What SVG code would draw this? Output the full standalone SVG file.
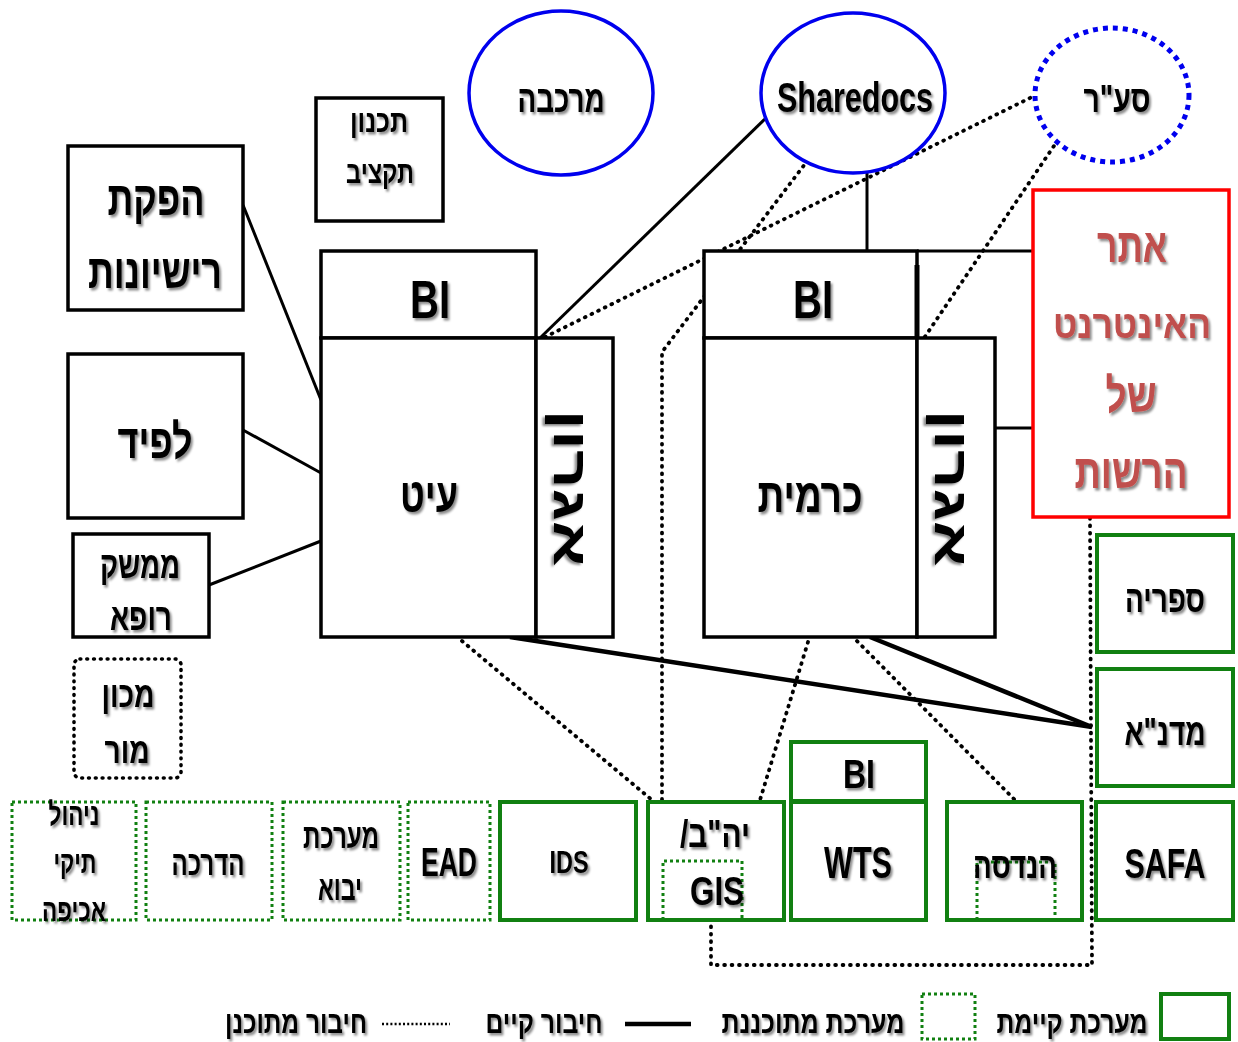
<svg xmlns="http://www.w3.org/2000/svg" width="1238" height="1042" viewBox="0 0 1238 1042">
<defs>
<filter id="sh" x="-5%" y="-10%" width="115%" height="130%">
<feDropShadow dx="2" dy="2.5" stdDeviation="1.3" flood-color="#000" flood-opacity="0.45"/>
</filter>
</defs>
<style>
.t{font-family:"Liberation Sans","Noto Sans",Arial,sans-serif;font-weight:bold;fill:#000;text-anchor:middle;filter:url(#sh)}
.he{direction:rtl;unicode-bidi:embed}
.red{fill:#C0504D}
.bx{fill:#fff;stroke:#000;stroke-width:3.5}
.gn{fill:#fff;stroke:#118011;stroke-width:4}
.gd{fill:none;stroke:#118011;stroke-width:3;stroke-dasharray:3 3}
.ell{fill:#fff;stroke:#0000EE;stroke-width:3.5}
.elld{fill:#fff;stroke:#0000EE;stroke-width:5;stroke-dasharray:5 5}
.sol{fill:none;stroke:#000;stroke-width:3}
.thk{fill:none;stroke:#000;stroke-width:4.5}
.dot{fill:none;stroke:#000;stroke-width:3.8;stroke-linecap:round;stroke-dasharray:0.8 6.6}
</style>

<g id="connectors">
<line class="sol" x1="243" y1="205" x2="321" y2="400"/>
<line class="sol" x1="243" y1="430" x2="321" y2="473"/>
<line class="sol" x1="209" y1="585" x2="321" y2="541"/>
<line class="sol" x1="540" y1="338" x2="767" y2="117"/>
<line class="sol" x1="867" y1="173" x2="867" y2="338"/>
<line class="sol" x1="917" y1="251" x2="1033" y2="251"/>
<line class="sol" x1="995" y1="428" x2="1033" y2="428"/>
<line class="thk" x1="510" y1="637" x2="1092" y2="727"/>
<line class="thk" x1="870" y1="637" x2="1092" y2="727"/>
<polyline class="dot" points="545,337 1032,97"/>
<polyline class="dot" points="808,160 662,352 662,800"/>
<polyline class="dot" points="1058,140 828,480"/>
<polyline class="dot" points="462,641 652,800"/>
<polyline class="dot" points="808,642 760,800"/>
<polyline class="dot" points="857,641 1015,800"/>
<polyline class="dot" points="1090,518 1092,965 711,965 711,921"/>
</g>

<g id="node-hafakat">
<rect class="bx" x="68" y="146" width="175" height="164"/>
<text class="t he" x="156" y="215" font-size="48" textLength="97" lengthAdjust="spacingAndGlyphs">הפקת</text>
<text class="t he" x="155" y="288" font-size="48" textLength="134" lengthAdjust="spacingAndGlyphs">רישיונות</text>
</g>
<g id="node-lapid">
<rect class="bx" x="68" y="354" width="175" height="164"/>
<text class="t he" x="155" y="458" font-size="48" textLength="75" lengthAdjust="spacingAndGlyphs">לפיד</text>
</g>
<g id="node-memshak">
<rect class="bx" x="73" y="534" width="136" height="103"/>
<text class="t he" x="140" y="578" font-size="38" textLength="80" lengthAdjust="spacingAndGlyphs">ממשק</text>
<text class="t he" x="141" y="630" font-size="38" textLength="62" lengthAdjust="spacingAndGlyphs">רופא</text>
</g>
<g id="node-machon">
<rect x="74" y="659" width="107" height="119" rx="6" fill="#fff" stroke="#000" stroke-width="3.6" stroke-linecap="round" stroke-dasharray="0.8 6"/>
<text class="t he" x="128" y="707" font-size="36" textLength="53" lengthAdjust="spacingAndGlyphs">מכון</text>
<text class="t he" x="127" y="763" font-size="36" textLength="45" lengthAdjust="spacingAndGlyphs">מור</text>
</g>
<g id="node-taktziv">
<rect class="bx" x="316" y="98" width="127" height="123"/>
<text class="t he" x="379" y="132" font-size="32" textLength="58" lengthAdjust="spacingAndGlyphs">תכנון</text>
<text class="t he" x="380" y="183" font-size="32" textLength="68" lengthAdjust="spacingAndGlyphs">תקציב</text>
</g>

<g id="node-bi-left">
<rect class="bx" x="321" y="251" width="215" height="87"/>
<text class="t" x="430" y="318" font-size="54" textLength="40" lengthAdjust="spacingAndGlyphs">BI</text>
</g>
<g id="node-ait">
<rect class="bx" x="321" y="338" width="215" height="299"/>
<text class="t he" x="429" y="512" font-size="48" textLength="58" lengthAdjust="spacingAndGlyphs">עיט</text>
</g>
<g id="node-agron-left">
<rect class="bx" x="536" y="338" width="77" height="299"/>
<text class="t he" transform="translate(570,488) rotate(90)" x="0" y="16" font-size="48" textLength="157" lengthAdjust="spacingAndGlyphs">אגרון</text>
</g>

<g id="node-merkava">
<ellipse class="ell" cx="561" cy="93" rx="92" ry="82"/>
<text class="t he" x="561" y="112" font-size="38" textLength="87" lengthAdjust="spacingAndGlyphs">מרכבה</text>
</g>
<g id="node-sharedocs">
<ellipse class="ell" cx="853" cy="93" rx="92" ry="80"/>
<text class="t" x="855" y="112" font-size="42" textLength="156" lengthAdjust="spacingAndGlyphs">Sharedocs</text>
</g>
<g id="node-saar">
<ellipse class="elld" cx="1112" cy="95" rx="77" ry="67"/>
<text class="t he" x="1117" y="112" font-size="38" textLength="67" lengthAdjust="spacingAndGlyphs">סע"ר</text>
</g>

<g id="node-bi-right">
<rect class="bx" x="704" y="251" width="213" height="87" fill="none"/>
<line x1="917" y1="265" x2="917" y2="338" stroke="#000" stroke-width="5"/>
<text class="t" x="813" y="318" font-size="54" textLength="40" lengthAdjust="spacingAndGlyphs">BI</text>
</g>
<g id="node-carmit">
<rect class="bx" x="704" y="338" width="213" height="299"/>
<text class="t he" x="810" y="512" font-size="48" textLength="105" lengthAdjust="spacingAndGlyphs">כרמית</text>
</g>
<g id="node-agron-right">
<rect class="bx" x="917" y="338" width="78" height="299"/>
<text class="t he" transform="translate(951,488) rotate(90)" x="0" y="16" font-size="48" textLength="157" lengthAdjust="spacingAndGlyphs">אגרון</text>
</g>

<g id="node-website">
<rect x="1033" y="190" width="196" height="327" fill="#fff" stroke="#FF0000" stroke-width="3.5"/>
<text class="t he red" x="1132" y="262" font-size="48" textLength="70" lengthAdjust="spacingAndGlyphs">אתר</text>
<text class="t he red" x="1132" y="338" font-size="40" textLength="158" lengthAdjust="spacingAndGlyphs">האינטרנט</text>
<text class="t he red" x="1131" y="412" font-size="48" textLength="51" lengthAdjust="spacingAndGlyphs">של</text>
<text class="t he red" x="1131" y="488" font-size="48" textLength="113" lengthAdjust="spacingAndGlyphs">הרשות</text>
</g>

<g id="node-sifria">
<rect class="gn" x="1097" y="535" width="136" height="117"/>
<text class="t he" x="1165" y="612" font-size="38" textLength="80" lengthAdjust="spacingAndGlyphs">ספריה</text>
</g>
<g id="node-madna">
<rect class="gn" x="1097" y="669" width="136" height="117"/>
<text class="t he" x="1165" y="745" font-size="38" textLength="81" lengthAdjust="spacingAndGlyphs">מדנ"א</text>
</g>
<g id="node-safa">
<rect class="gn" x="1096" y="802" width="137" height="118"/>
<text class="t" x="1165" y="878" font-size="42" textLength="81" lengthAdjust="spacingAndGlyphs">SAFA</text>
</g>
<g id="node-handasa">
<rect class="gn" x="947" y="802" width="135" height="118"/>
<path class="gd" d="M977,920 V862 H1055 V920"/>
<text class="t he" x="1015" y="878" font-size="36" textLength="84" lengthAdjust="spacingAndGlyphs">הנדסה</text>
</g>
<g id="node-bi-wts">
<rect class="gn" x="791" y="742" width="135" height="59"/>
<text class="t" x="859" y="788" font-size="40" textLength="32" lengthAdjust="spacingAndGlyphs">BI</text>
</g>
<g id="node-wts">
<rect class="gn" x="791" y="802" width="135" height="118"/>
<text class="t" x="858" y="878" font-size="44" textLength="68" lengthAdjust="spacingAndGlyphs">WTS</text>
</g>
<g id="node-yahab-gis">
<rect class="gn" x="648" y="802" width="136" height="118"/>
<path class="gd" d="M663,920 V861 H742 V920"/>
<text class="t he" x="715" y="847" font-size="38" textLength="70" lengthAdjust="spacingAndGlyphs">יה"ב/</text>
<text class="t" x="717" y="905" font-size="40" textLength="54" lengthAdjust="spacingAndGlyphs">GIS</text>
</g>
<g id="node-ids">
<rect class="gn" x="500" y="802" width="136" height="118"/>
<text class="t" x="569" y="873" font-size="32" textLength="39" lengthAdjust="spacingAndGlyphs">IDS</text>
</g>
<g id="node-ead">
<rect class="gd" x="408" y="802" width="82" height="118"/>
<text class="t" x="449" y="876" font-size="40" textLength="56" lengthAdjust="spacingAndGlyphs">EAD</text>
</g>
<g id="node-yevu">
<rect class="gd" x="283" y="802" width="117" height="118"/>
<text class="t he" x="341" y="848" font-size="34" textLength="76" lengthAdjust="spacingAndGlyphs">מערכת</text>
<text class="t he" x="340" y="900" font-size="34" textLength="44" lengthAdjust="spacingAndGlyphs">יבוא</text>
</g>
<g id="node-hadracha">
<rect class="gd" x="146" y="802" width="126" height="118"/>
<text class="t he" x="208" y="875" font-size="34" textLength="73" lengthAdjust="spacingAndGlyphs">הדרכה</text>
</g>
<g id="node-akifa">
<rect class="gd" x="12" y="802" width="124" height="118"/>
<text class="t he" x="74" y="825" font-size="32" textLength="51" lengthAdjust="spacingAndGlyphs">ניהול</text>
<text class="t he" x="75" y="873" font-size="32" textLength="43" lengthAdjust="spacingAndGlyphs">תיקי</text>
<text class="t he" x="74" y="921" font-size="32" textLength="64" lengthAdjust="spacingAndGlyphs">אכיפה</text>
</g>

<g id="legend">
<rect class="gn" x="1161" y="994" width="68" height="45"/>
<text class="t he" x="1072" y="1033" font-size="32" textLength="151" lengthAdjust="spacingAndGlyphs">מערכת קיימת</text>
<rect class="gd" x="922" y="994" width="53" height="45"/>
<text class="t he" x="813" y="1033" font-size="32" textLength="183" lengthAdjust="spacingAndGlyphs">מערכת מתוכננת</text>
<line x1="625" y1="1024" x2="691" y2="1024" stroke="#000" stroke-width="4.5"/>
<text class="t he" x="544" y="1033" font-size="32" textLength="117" lengthAdjust="spacingAndGlyphs">חיבור קיים</text>
<line x1="382" y1="1024" x2="450" y2="1024" stroke="#000" stroke-width="2.5" stroke-dasharray="2 2.2"/>
<text class="t he" x="296" y="1033" font-size="32" textLength="142" lengthAdjust="spacingAndGlyphs">חיבור מתוכנן</text>
</g>
</svg>
